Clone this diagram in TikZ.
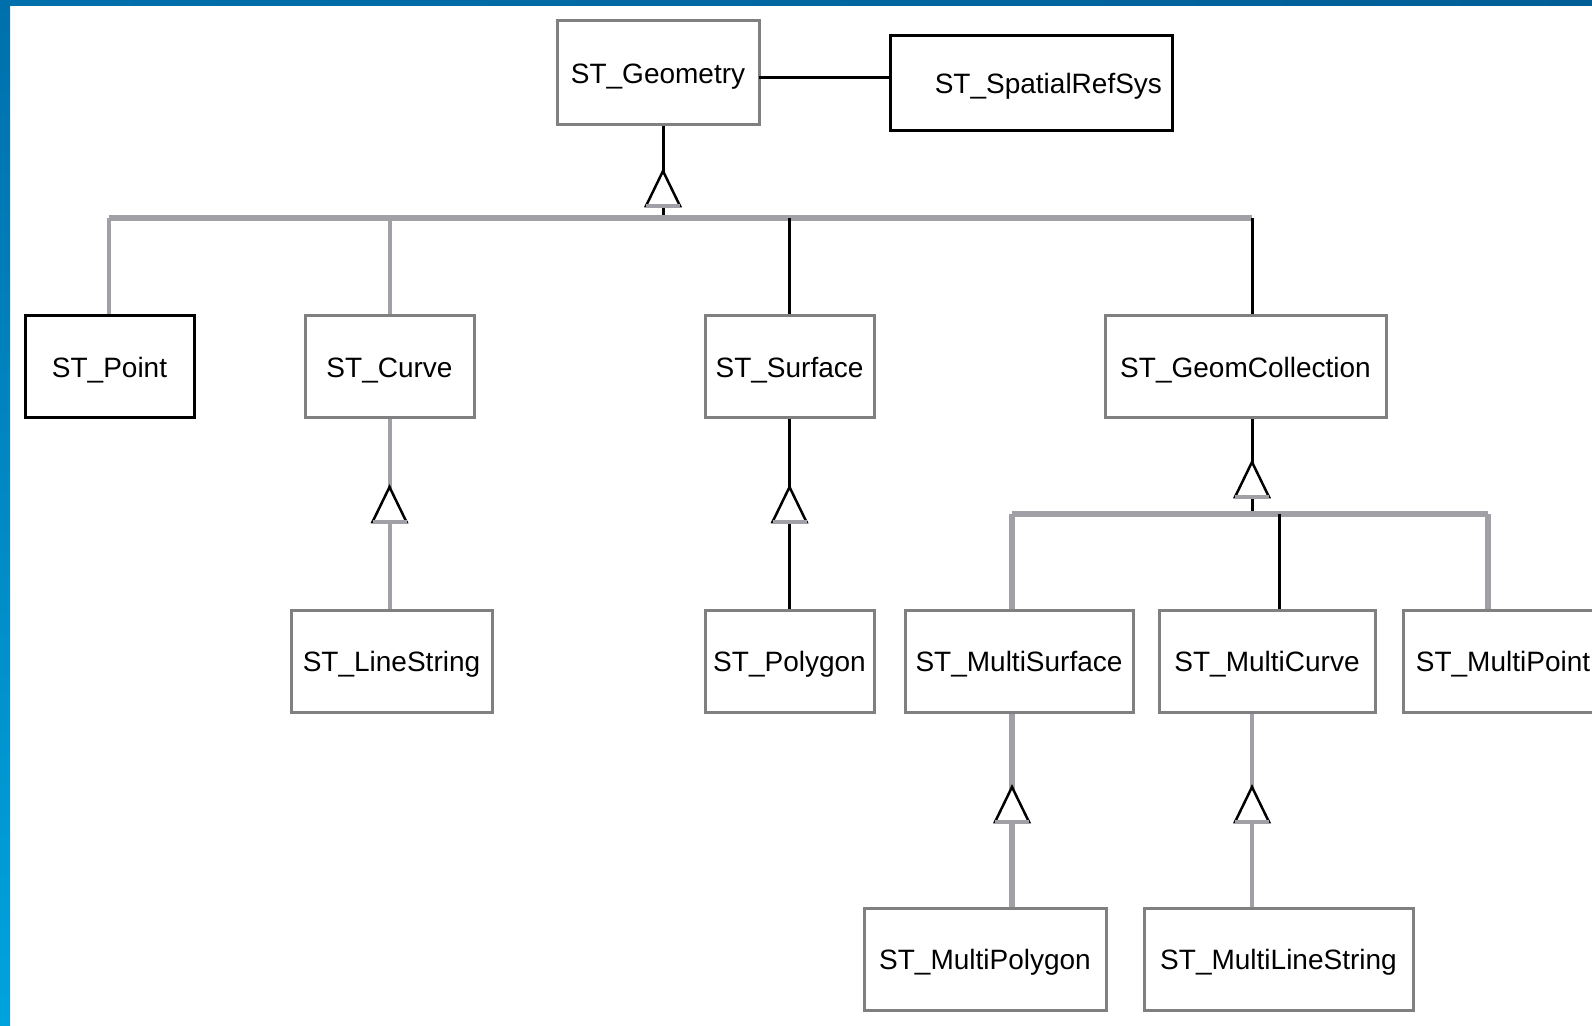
\documentclass[tikz,border=0pt]{standalone}
\usepackage{fontspec}
\setmainfont{Liberation Sans}
\usetikzlibrary{positioning}
\usetikzlibrary{calc}
\definecolor{boxgray}{RGB}{128,128,128}
\definecolor{linegray}{RGB}{160,160,166}
\definecolor{framedark}{RGB}{0,112,172}
\definecolor{framelight}{RGB}{0,163,221}
\definecolor{frameright}{RGB}{0,94,150}

\tikzset{
  cls/.style={draw=boxgray, line width=3pt, fill=white, inner sep=0pt, minimum height=102pt, text height=22pt, text depth=1pt, font=\fontsize{28}{32}\selectfont},
  blackline/.style={draw=black, line width=3pt},
  grayline/.style={draw=linegray, line width=4pt},
  busline/.style={draw=linegray, line width=6pt},
  tri/.style={draw=black, line width=2.5pt, fill=white, line join=miter},
  tribase/.style={draw=linegray, line width=4pt}
}
\newcommand{\gentri}[1]{\draw[tri] (#1) -- ++(-17,35) -- ++(34,0) -- cycle; \draw[tribase] ($(#1)+(-17,35)$) -- ++(34,0);}

\begin{document}
\begin{tikzpicture}[x=1pt,y=-1pt]
	\clip (0,0) rectangle (1592,1025);
	\fill[white] (0,0) rectangle (1592,1025);
	
	%frame
	\shade[left color=framedark, right color=frameright] (0,0) rectangle (1592,6);
	\shade[top color=framedark, bottom color=framelight] (0,0) rectangle (10,1025);
	
	%boxes
	\node[cls, minimum width=202pt, minimum height=103pt] (geom) at (658,72.5) {ST\_Geometry};
	\node[cls, draw=black, minimum width=282pt, minimum height=94pt, text width=262pt, align=right] (srs) at (1031,83) {ST\_SpatialRefSys};
	
	\node[cls, draw=black, minimum width=169pt] (point) at (109.5,366.5) {ST\_Point};
	\node[cls, minimum width=169pt] (curve) at (389.5,366.5) {ST\_Curve};
	\node[cls, minimum width=169pt] (surf) at (789.5,366.5) {ST\_Surface};
	\node[cls, minimum width=281pt] (gcoll) at (1245.5,366.5) {ST\_GeomCollection};
	
	\node[cls, minimum width=201pt] (linestr) at (391.5,661) {ST\_LineString};
	\node[cls, minimum width=169pt] (poly) at (789.5,661) {ST\_Polygon};
	\node[cls, minimum width=228pt] (msurf) at (1019,661) {ST\_MultiSurface};
	\node[cls, minimum width=216pt] (mcurve) at (1267,661) {ST\_MultiCurve};
	\node[cls, minimum width=200pt] (mpoint) at (1503,661) {ST\_MultiPoint};
	
	\node[cls, minimum width=242pt] (mpoly) at (985,959) {ST\_MultiPolygon};
	\node[cls, minimum width=269pt] (mline) at (1278.5,959) {ST\_MultiLineString};
	
	%junctions
	\coordinate (g0) at (759,77);
	\coordinate (g1) at (663,171);
	\coordinate (busl) at (109,218);
	\coordinate (busr) at (1252,218);
	\coordinate (c1) at (1252,462);
	\coordinate (bus2l) at (1012,514);
	\coordinate (bus2m) at (1279,514);
	\coordinate (bus2r) at (1488,514);
	\coordinate (t1) at (389.5,487);
	\coordinate (t2) at (789.5,487);
	\coordinate (t3) at (1012,787);
	\coordinate (t4) at (1252,787);
	
	%draw lines
	\draw[blackline] (g0) -- (srs.west |- g0);
	\draw[blackline] (geom.south -| g1) -- (g1 |- busl);
	\draw[busline] (busl) -- (busr);
	\draw[grayline] (busl) -- (busl |- point.north);
	\draw[grayline] (curve.north |- busl) -- (curve.north);
	\draw[blackline] (surf.north |- busl) -- (surf.north);
	\draw[blackline] (busr) -- (busr |- gcoll.north);
	
	\draw[grayline] (curve.south) -- (curve.south |- linestr.north);
	\draw[blackline] (surf.south) -- (poly.north);
	
	\draw[blackline] (gcoll.south -| c1) -- (c1 |- bus2l);
	\draw[busline] (bus2l) -- (bus2r);
	\draw[busline] (bus2l) -- (bus2l |- msurf.north);
	\draw[blackline] (bus2m) -- (bus2m |- mcurve.north);
	\draw[busline] (bus2r) -- (bus2r |- mpoint.north);
	
	\draw[busline] (msurf.south -| t3) -- (mpoly.north -| t3);
	\draw[grayline] (mcurve.south -| t4) -- (mline.north -| t4);
	
	%triangles
	\gentri{g1}
	\gentri{t1}
	\gentri{t2}
	\gentri{c1}
	\gentri{t3}
	\gentri{t4}
\end{tikzpicture}
\end{document}
